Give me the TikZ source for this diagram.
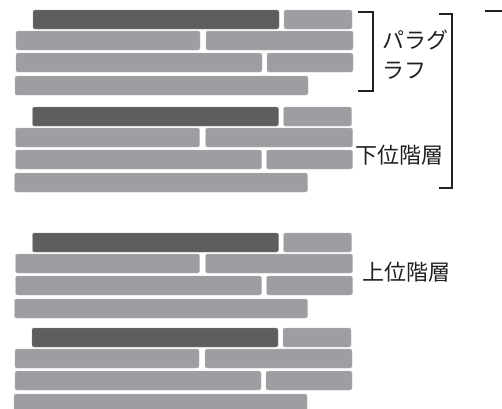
\documentclass[tikz,border=0pt]{standalone}
\usepackage{fontspec}
\newfontfamily\cjk{Noto Sans CJK JP}
\definecolor{darkbar}{HTML}{5E5E61}
\definecolor{lightbar}{HTML}{9D9EA2}
\definecolor{ink}{HTML}{231F20}
\begin{document}
\begin{tikzpicture}[x=1pt,y=-1pt,
  bar/.style={fill=#1,draw=#1!70!white,line width=0.4pt,rounded corners=2pt},
  brk/.style={draw=ink,line width=1.1pt},
  lbl/.style={font=\cjk\fontsize{22}{30}\selectfont,text=ink,inner sep=0pt,anchor=west,align=left}]
\useasboundingbox (0,0) rectangle (502,408);
\foreach \y/\s in {10/0,107/-1,233/-1,328/-2}{
  \path[bar=darkbar] (33+\s*0.5,\y) rectangle (279+\s*0.5,\y+19);
  \path[bar=lightbar] (284+\s*0.5,\y) rectangle (352+\s*0.5,\y+19);
  \path[bar=lightbar] (16+\s*0.5,\y+21) rectangle (200+\s*0.5,\y+40);
  \path[bar=lightbar] (206+\s*0.5,\y+21) rectangle (353+\s*0.5,\y+40);
  \path[bar=lightbar] (16+\s*0.5,\y+43) rectangle (262+\s*0.5,\y+62);
  \path[bar=lightbar] (267+\s*0.5,\y+43) rectangle (353+\s*0.5,\y+62);
  \path[bar=lightbar] (15+\s*0.5,\y+66) rectangle (308+\s*0.5,\y+85);
}
% brackets
\coordinate (b1a) at (358,12); \coordinate (b1b) at (373,12);
\coordinate (b1c) at (373,91); \coordinate (b1d) at (358,91);
\draw[brk] (b1a) -- (b1b) -- (b1c) -- (b1d);
\coordinate (b2a) at (439,14); \coordinate (b2b) at (452,14);
\coordinate (b2c) at (452,188); \coordinate (b2d) at (439,188);
\draw[brk] (b2a) -- (b2b) -- (b2c) -- (b2d);
\coordinate (t1) at (485,11); \coordinate (t2) at (502,11);
\draw[brk] (t1) -- (t2);
% labels
\node[lbl] (para) at (382,55) {パラグ\\ラフ};
\node[lbl] (low) at (355,155) {下位階層};
\node[lbl] (up) at (362,272) {上位階層};
\end{tikzpicture}
\end{document}
